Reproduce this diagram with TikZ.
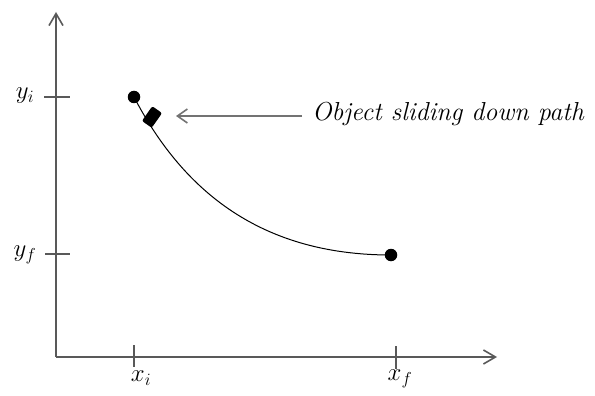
\documentclass[tikz,border=0pt]{standalone}
\usetikzlibrary{arrows.meta}
\begin{document}
\begin{tikzpicture}[x=1pt,y=-1pt,
  axis/.style={draw=black!65,line width=1.6pt,-{Straight Barb[length=12pt,width=14pt,line width=1.6pt]}},
  tick/.style={draw=black!65,line width=1.6pt},
  pointer/.style={draw=black!55,line width=2pt,-{Straight Barb[length=10pt,width=14pt,line width=1.6pt]}},
  dot/.style={circle,fill=black,inner sep=0pt,minimum size=12.5pt},
  lbl/.style={inner sep=0pt,font=\fontsize{26}{30}\selectfont}]
\useasboundingbox (0,0) rectangle (595,396);
\coordinate (O) at (56,357);
\coordinate (ytop) at (56,12);
\coordinate (xend) at (497,357);
\draw[axis] (O) -- (ytop);
\draw[axis] (O) -- (xend);
% ticks
\coordinate (yiL) at (44,97); \coordinate (yiR) at (70,97);
\coordinate (yfL) at (45,254); \coordinate (yfR) at (70,254);
\coordinate (xiT) at (134,345); \coordinate (xiB) at (134,367);
\coordinate (xfT) at (396,346); \coordinate (xfB) at (396,369);
\draw[tick] (yiL) -- (yiR);
\draw[tick] (yfL) -- (yfR);
\draw[tick] (xiT) -- (xiB);
\draw[tick] (xfT) -- (xfB);
\node[lbl] (lyi) at (25,96) {$y_i$};
\node[lbl] (lyf) at (25,255) {$y_f$};
\node[lbl] (lxi) at (141,378) {$x_i$};
\node[lbl] (lxf) at (400,379) {$x_f$};
% path
\node[dot] (start) at (134,97) {};
\node[dot] (end) at (391,255) {};
\draw[black,line width=1pt] (start.center) .. controls (180,185) and (255,255) .. (end.center);
\node[fill=black,rounded corners=2pt,minimum width=12pt,minimum height=18pt,inner sep=0pt,rotate=-35] (block) at (152,117) {};
% label
\node[lbl,anchor=west] (txt) at (312,114) {\itshape Object sliding down path};
\coordinate (ptip) at (176,116);
\draw[pointer] (302,116) -- (ptip);
\end{tikzpicture}
\end{document}
